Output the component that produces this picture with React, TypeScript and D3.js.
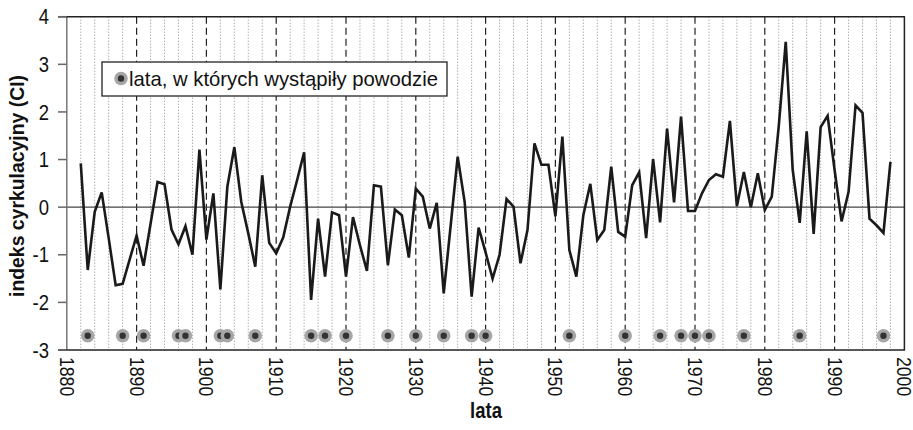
import React from "react";
import * as d3 from "d3";

const years: number[] = [
  1882, 1883, 1884, 1885, 1886, 1887, 1888, 1889, 1890, 1891, 1892, 1893, 1894, 1895, 1896, 1897, 1898, 1899,
  1900, 1901, 1902, 1903, 1904, 1905, 1906, 1907, 1908, 1909, 1910, 1911, 1912, 1913, 1914, 1915, 1916, 1917,
  1918, 1919, 1920, 1921, 1922, 1923, 1924, 1925, 1926, 1927, 1928, 1929, 1930, 1931, 1932, 1933, 1934, 1935,
  1936, 1937, 1938, 1939, 1940, 1941, 1942, 1943, 1944, 1945, 1946, 1947, 1948, 1949, 1950, 1951, 1952, 1953,
  1954, 1955, 1956, 1957, 1958, 1959, 1960, 1961, 1962, 1963, 1964, 1965, 1966, 1967, 1968, 1969, 1970, 1971,
  1972, 1973, 1974, 1975, 1976, 1977, 1978, 1979, 1980, 1981, 1982, 1983, 1984, 1985, 1986, 1987, 1988, 1989,
  1990, 1991, 1992, 1993, 1994, 1995, 1996, 1997, 1998,
];

const ciValues: number[] = [
  0.92, -1.32, -0.1, 0.31, -0.65, -1.64, -1.61, -1.1, -0.6, -1.23, -0.35, 0.53, 0.48, -0.47, -0.78, -0.4, -1.0, 1.21,
  -0.68, 0.29, -1.73, 0.43, 1.26, 0.11, -0.55, -1.25, 0.67, -0.75, -0.97, -0.64, 0.01, 0.57, 1.15, -1.95, -0.24, -1.46,
  -0.11, -0.17, -1.46, -0.21, -0.8, -1.34, 0.46, 0.43, -1.22, -0.05, -0.17, -1.06, 0.39, 0.22, -0.45, 0.09, -1.81, -0.38,
  1.06, 0.11, -1.88, -0.43, -0.95, -1.5, -1.0, 0.17, 0.01, -1.18, -0.48, 1.34, 0.89, 0.89, -0.19, 1.48, -0.9, -1.46,
  -0.17, 0.49, -0.69, -0.48, 0.85, -0.52, -0.62, 0.46, 0.73, -0.65, 1.01, -0.32, 1.65, 0.1, 1.9, -0.08, -0.08, 0.29,
  0.57, 0.69, 0.64, 1.81, 0.02, 0.74, 0.0, 0.71, -0.06, 0.22, 1.7, 3.47, 0.78, -0.33, 1.59, -0.56, 1.68, 1.92,
  0.78, -0.3, 0.32, 2.14, 1.98, -0.24, -0.38, -0.54, 0.95,
];

const floodYears: number[] = [
  1883, 1888, 1891, 1896, 1897, 1902, 1903, 1907, 1915, 1917, 1920, 1926, 1930, 1934, 1938, 1940, 1952, 1960,
  1965, 1968, 1970, 1972, 1977, 1985, 1997,
];
const floodMarkerValue = -2.7;

const xTicks: number[] = [1880, 1890, 1900, 1910, 1920, 1930, 1940, 1950, 1960, 1970, 1980, 1990, 2000];
const yTicks: number[] = [-3, -2, -1, 0, 1, 2, 3, 4];

const legendLabel = "lata, w których wystąpiły powodzie";
const xTitle = "lata";
const yTitle = "indeks cyrkulacyjny (CI)";

const W = 913;
const H = 430;
const FONT = "'Liberation Sans', Arial, sans-serif";
const NARROW = 0.84;

export default function App() {
  const x = d3.scaleLinear().domain([1880, 2000]).range([66.8, 904.4]);
  const y = d3.scaleLinear().domain([-3, 4]).range([350, 16.7]);

  const line = d3
    .line<number>()
    .x((_, i) => x(years[i]))
    .y((v) => y(v));

  const minorYears = d3.range(1882, 2000, 2).filter((yr) => yr % 10 !== 0);
  const decadeYears = d3.range(1890, 2000, 10);

  const left = x(1880);
  const right = x(2000);
  const top = y(4);
  const bottom = y(-3);

  return (
    <svg
      width={W}
      height={H}
      style={{ position: "absolute", left: 0, top: 0, background: "#fff" }}
      fontFamily={FONT}
    >
      {/* minor dotted gridlines */}
      {minorYears.map((yr) => (
        <line
          key={"m" + yr}
          x1={x(yr)}
          x2={x(yr)}
          y1={top}
          y2={bottom}
          stroke="#8a8a8a"
          strokeWidth={1}
          strokeDasharray="1,2"
        />
      ))}
      {/* decade dashed gridlines */}
      {decadeYears.map((yr) => (
        <line
          key={"d" + yr}
          x1={x(yr)}
          x2={x(yr)}
          y1={top}
          y2={bottom}
          stroke="#222"
          strokeWidth={1.2}
          strokeDasharray="7,4"
        />
      ))}
      {/* zero line */}
      <line x1={left} x2={right} y1={y(0)} y2={y(0)} stroke="#444" strokeWidth={1.2} />

      {/* legend */}
      <rect x={102} y={62} width={345} height={34} fill="#fff" stroke="#222" strokeWidth={1.3} />
      <circle cx={121} cy={78.5} r={6.8} fill="#a6a6a6" />
      <circle cx={121} cy={78.5} r={3.2} fill="#333" />
      <text
        x={129}
        y={78.5}
        dy="0.35em"
        fontSize={21}
        fill="#111"
        textLength={309}
        lengthAdjust="spacingAndGlyphs"
      >
        {legendLabel}
      </text>

      {/* data line */}
      <path d={line(ciValues) || ""} fill="none" stroke="#1a1a1a" strokeWidth={2.6} strokeLinejoin="miter" />

      {/* flood markers */}
      {floodYears.map((yr) => (
        <g key={"f" + yr}>
          <circle cx={x(yr)} cy={y(floodMarkerValue)} r={6.8} fill="#a6a6a6" />
          <circle cx={x(yr)} cy={y(floodMarkerValue)} r={3.2} fill="#333" />
        </g>
      ))}

      {/* axes frame */}
      <line x1={left} x2={left} y1={top} y2={bottom} stroke="#777" strokeWidth={1.5} />
      <line x1={58} x2={right + 0.6} y1={top} y2={top} stroke="#222" strokeWidth={1.5} />
      <line x1={58} x2={right + 0.6} y1={bottom} y2={bottom} stroke="#222" strokeWidth={1.5} />
      <line x1={right} x2={right} y1={top} y2={bottom} stroke="#222" strokeWidth={1.5} />

      {/* y ticks */}
      {yTicks.map((t) => (
        <g key={"y" + t}>
          <line x1={58} x2={left} y1={y(t)} y2={y(t)} stroke="#666" strokeWidth={1.5} />
          <text
            transform={`translate(49,${y(t)}) scale(${NARROW},1)`}
            dy="0.35em"
            textAnchor="end"
            fontSize={22}
            fill="#111"
          >
            {t}
          </text>
        </g>
      ))}

      {/* x tick labels */}
      {xTicks.map((t) => (
        <text
          key={"x" + t}
          transform={`translate(${x(t)},${bottom + 7}) rotate(90) scale(${NARROW},1)`}
          dy="0.33em"
          textAnchor="start"
          fontSize={21}
          fill="#111"
        >
          {t}
        </text>
      ))}

      {/* axis titles */}
      <text
        transform={`translate(486,418) scale(${NARROW},1)`}
        textAnchor="middle"
        fontSize={22}
        fontWeight="bold"
        fill="#111"
      >
        {xTitle}
      </text>
      <text
        transform={`translate(24,186) rotate(-90)`}
        textAnchor="middle"
        fontSize={21}
        fontWeight="bold"
        fill="#111"
        textLength={222}
        lengthAdjust="spacingAndGlyphs"
      >
        {yTitle}
      </text>
    </svg>
  );
}
